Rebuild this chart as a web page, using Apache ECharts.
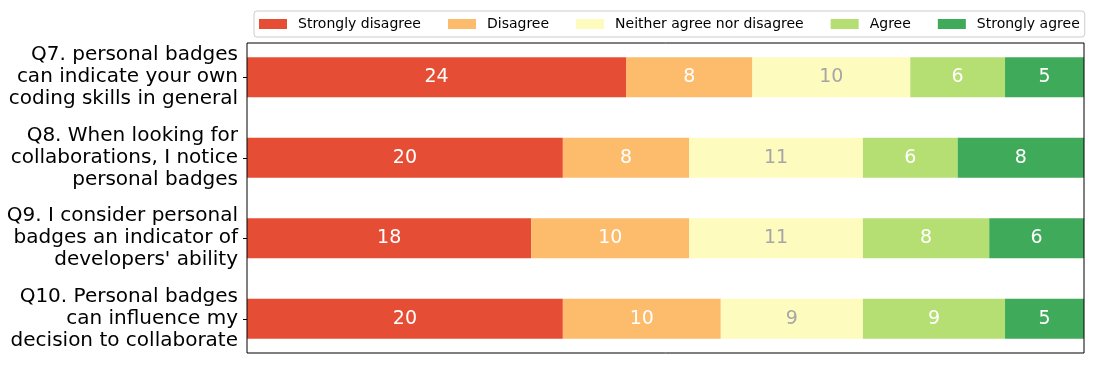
<!DOCTYPE html>
<html>
<head>
<meta charset="utf-8">
<script src="https://cdn.jsdelivr.net/npm/echarts@6/dist/echarts.min.js"></script>
<style>
  html, body { margin: 0; padding: 0; background: #fff; }
  #chart { width: 1098px; height: 366px; }
</style>
</head>
<body>
<div id="chart"></div>
<script>
var questions = [
  'Q7. personal badges\ncan indicate your own\ncoding skills in general',
  'Q8. When looking for\ncollaborations, I notice\npersonal badges',
  'Q9. I consider personal\nbadges an indicator of\ndevelopers\' ability',
  'Q10. Personal badges\ncan influence my\ndecision to collaborate'
];
var answers = ['Strongly disagree', 'Disagree', 'Neither agree nor disagree', 'Agree', 'Strongly agree'];
// counts per answer, one value per question (Q7..Q10)
var stronglyDisagree = [24, 20, 18, 20];
var disagree = [8, 8, 10, 10];
var neither = [10, 11, 11, 9];
var agree = [6, 6, 8, 9];
var stronglyAgree = [5, 8, 6, 5];
var totalResponses = 53;

var colors = ['#e54e35', '#fdbb6c', '#fefbbf', '#b5df73', '#3faa59'];
var labelColors = ['#ffffff', '#ffffff', '#a6a6a6', '#ffffff', '#ffffff'];
var values = [stronglyDisagree, disagree, neither, agree, stronglyAgree];

var chart = echarts.init(document.getElementById('chart'));

var series = answers.map(function (name, i) {
  return {
    name: name,
    type: 'bar',
    stack: 'all',
    barWidth: 40,
    data: values[i],
    itemStyle: { color: colors[i] },
    label: {
      show: true,
      position: 'inside',
      color: labelColors[i],
      fontSize: 19,
      fontFamily: 'DejaVu Sans'
    }
  };
});

chart.setOption({
  animation: false,
  textStyle: { fontFamily: 'DejaVu Sans' },
  legend: {
    left: 254,
    top: 11,
    itemWidth: 28,
    itemHeight: 10,
    itemGap: 27,
    borderColor: '#cccccc',
    borderWidth: 1,
    borderRadius: 3,
    padding: [6, 5, 6, 5],
    icon: 'rect',
    textStyle: { fontSize: 14, color: '#000', fontFamily: 'DejaVu Sans', padding: [0, 0, 0, 6] },
    data: answers
  },
  grid: { left: 247, right: 14, top: 37, height: 322, containLabel: false },
  xAxis: {
    type: 'value',
    min: 0,
    max: totalResponses,
    show: false
  },
  yAxis: {
    type: 'category',
    inverse: true,
    data: questions,
    axisLine: { show: false },
    axisTick: { show: true, alignWithLabel: true, length: 4, lineStyle: { color: '#000' } },
    axisLabel: {
      fontSize: 20,
      fontFamily: 'DejaVu Sans',
      color: '#000',
      lineHeight: 22,
      margin: 9,
      align: 'right'
    }
  },
  graphic: [{
    type: 'rect',
    shape: { x: 247, y: 43, width: 837, height: 310 },
    style: { fill: 'none', stroke: '#000', lineWidth: 1 },
    z: 100
  }],
  series: series
});
</script>
</body>
</html>
